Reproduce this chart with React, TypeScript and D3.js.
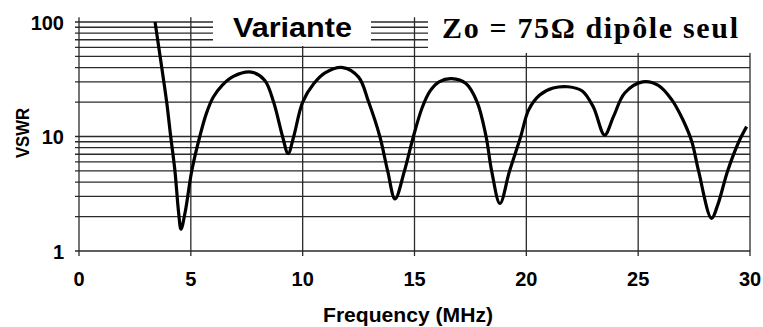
import { useEffect, useRef } from 'react';
import * as d3 from 'd3';

// fréquence (MHz) et VSWR
const freq = [
  3.4, 3.7, 3.92, 4.1, 4.29, 4.45, 4.56, 4.75, 5.04, 5.4, 5.7, 6.0, 6.4, 6.9, 7.7,
  8.3, 8.7, 9.1, 9.35, 9.6, 10.0, 10.5, 11.0, 11.8, 12.5, 12.95, 13.45,
  13.8, 14.13, 14.55, 14.95, 15.35, 15.7, 16.1, 16.66, 17.3, 17.8, 18.2, 18.45, 18.82,
  19.25, 19.75, 20.1, 20.6, 21.2, 21.86, 22.5, 23.0, 23.5, 23.9, 24.4, 25.2, 25.9,
  26.5, 27.0, 27.4, 27.7, 28.28, 28.55, 29.0, 29.5, 29.85,
];
const vswr = [
  100, 40, 20, 10, 5, 2.2, 1.55, 2.2, 5, 10, 16, 22, 28, 33.5, 36.5,
  31, 20, 10, 7.1, 10, 20, 29, 36, 40, 33, 20, 10,
  5, 2.85, 5, 10, 18, 25, 30, 32, 29, 20, 10, 5, 2.6,
  5, 10, 17, 23, 26.5, 27.2, 25, 18, 10.3, 15, 24, 30, 28,
  21, 14, 9, 5, 1.93, 2.5, 5, 9, 12.2,
];

const xTicks = [0, 5, 10, 15, 20, 25, 30];
const yLabels = [1, 10, 100];
const yGrid = [1, 2, 3, 4, 5, 6, 7, 8, 9, 10, 20, 30, 40, 50, 60, 70, 80, 90, 100];

const titleLeft = 'Variante';
const titleRight = 'Zo = 75Ω dipôle seul';
const xTitle = 'Frequency (MHz)';
const yTitle = 'VSWR';

const sans = '"Liberation Sans", Arial, sans-serif';
const serif = '"Liberation Serif", "Times New Roman", serif';

const App = () => {
  const svgRef = useRef(null);

  useEffect(() => {
    const svg = d3.select(svgRef.current);
    svg.selectAll('*').remove();

    const x = d3.scaleLinear().domain([0, 30]).range([79, 750]);
    const y = d3.scaleLog().domain([1, 100]).range([251, 22]);
    const plotTop = y(110);
    const gridColor = '#2a2a2a';

    // lignes horizontales (grille log)
    svg
      .append('g')
      .selectAll('line')
      .data(yGrid)
      .join('line')
      .attr('x1', x(0) - 4)
      .attr('x2', x(30))
      .attr('y1', (d) => y(d))
      .attr('y2', (d) => y(d))
      .attr('stroke', gridColor)
      .attr('stroke-width', 1.3);

    // lignes verticales
    svg
      .append('g')
      .selectAll('line')
      .data(xTicks)
      .join('line')
      .attr('x1', (d) => x(d))
      .attr('x2', (d) => x(d))
      .attr('y1', plotTop)
      .attr('y2', y(1) + 5)
      .attr('stroke', gridColor)
      .attr('stroke-width', 1.3);

    // courbe
    const line = d3
      .line()
      .x((d) => x(d[0]))
      .y((d) => y(d[1]))
      .curve(d3.curveCatmullRom.alpha(0.5));

    svg
      .append('path')
      .datum(freq.map((f, i) => [f, vswr[i]]))
      .attr('d', line)
      .attr('fill', 'none')
      .attr('stroke', '#000')
      .attr('stroke-width', 3.2)
      .attr('stroke-linejoin', 'round');

    // cadres blancs des titres
    svg.append('rect').attr('x', 213).attr('y', 0).attr('width', 158).attr('height', 46).attr('fill', '#fff');
    svg.append('rect').attr('x', 428).attr('y', 0).attr('width', 335).attr('height', 53).attr('fill', '#fff');

    svg
      .append('text')
      .attr('x', 233)
      .attr('y', 37)
      .attr('font-family', sans)
      .attr('font-weight', 'bold')
      .attr('font-size', 28)
      .attr('textLength', 119)
      .attr('lengthAdjust', 'spacingAndGlyphs')
      .text(titleLeft);

    svg
      .append('text')
      .attr('x', 442)
      .attr('y', 38)
      .attr('font-family', serif)
      .attr('font-weight', 'bold')
      .attr('font-size', 30)
      .attr('textLength', 296)
      .attr('lengthAdjust', 'spacing')
      .text(titleRight);

    // étiquettes des axes
    svg
      .append('g')
      .selectAll('text')
      .data(yLabels)
      .join('text')
      .attr('x', 64)
      .attr('y', (d) => y(d) + 7.5)
      .attr('text-anchor', 'end')
      .attr('font-family', sans)
      .attr('font-weight', 'bold')
      .attr('font-size', 20)
      .text((d) => d);

    svg
      .append('g')
      .selectAll('text')
      .data(xTicks)
      .join('text')
      .attr('x', (d) => x(d))
      .attr('y', 286)
      .attr('text-anchor', 'middle')
      .attr('font-family', sans)
      .attr('font-weight', 'bold')
      .attr('font-size', 20)
      .text((d) => d);

    svg
      .append('text')
      .attr('x', 408)
      .attr('y', 322)
      .attr('text-anchor', 'middle')
      .attr('font-family', sans)
      .attr('font-weight', 'bold')
      .attr('font-size', 21)
      .attr('textLength', 170)
      .attr('lengthAdjust', 'spacingAndGlyphs')
      .text(xTitle);

    svg
      .append('text')
      .attr('transform', 'translate(29,133) rotate(-90)')
      .attr('text-anchor', 'middle')
      .attr('font-family', sans)
      .attr('font-weight', 'bold')
      .attr('font-size', 19)
      .attr('textLength', 50)
      .attr('lengthAdjust', 'spacingAndGlyphs')
      .text(yTitle);
  }, []);

  return (
    <svg
      ref={svgRef}
      width={763}
      height={327}
      style={{ position: 'fixed', left: 0, top: 0, background: '#fff' }}
    />
  );
};

export default App;
